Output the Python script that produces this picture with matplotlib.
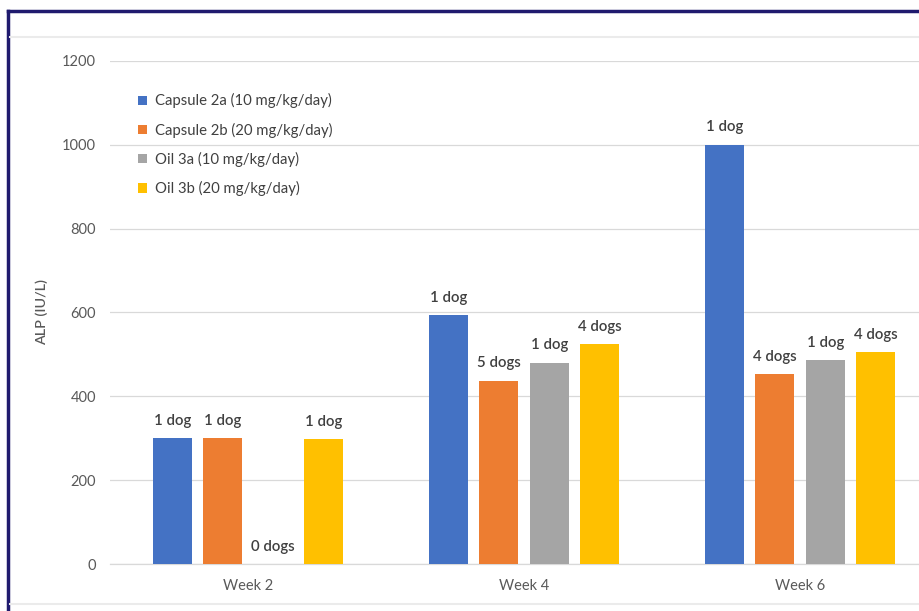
import matplotlib.pyplot as plt
import numpy as np
from matplotlib.lines import Line2D

# ALP values per week for each formulation
weeks = ["Week 2", "Week 4", "Week 6"]
series = [
    "Capsule 2a (10 mg/kg/day)",
    "Capsule 2b (20 mg/kg/day)",
    "Oil 3a (10 mg/kg/day)",
    "Oil 3b (20 mg/kg/day)",
]
capsule_2a = [300, 594, 1000]
capsule_2b = [300, 437, 453]
oil_3a = [0, 480, 487]
oil_3b = [298, 525, 506]

capsule_2a_n = ["1 dog", "1 dog", "1 dog"]
capsule_2b_n = ["1 dog", "5 dogs", "4 dogs"]
oil_3a_n = ["0 dogs", "1 dog", "1 dog"]
oil_3b_n = ["1 dog", "4 dogs", "4 dogs"]

colors = ["#4472C4", "#ED7D31", "#A5A5A5", "#FFC000"]
values = [capsule_2a, capsule_2b, oil_3a, oil_3b]
counts = [capsule_2a_n, capsule_2b_n, oil_3a_n, oil_3b_n]

plt.rcParams["font.family"] = ["Lato", "DejaVu Sans"]
text_col = "#595959"

fig = plt.figure(figsize=(9.19, 6.11), dpi=100)
ax = fig.add_axes([0.1197, 0.0769, 0.9010, 0.8233])

x = np.arange(len(weeks))
pitch = 0.182
width = 0.141
for i, (vals, col, lab, cnt) in enumerate(zip(values, colors, series, counts)):
    pos = x + (i - 1.5) * pitch
    ax.bar(pos, vals, width=width, color=col, label=lab, zorder=3)
    for p, v, c in zip(pos, vals, cnt):
        ax.annotate(c, (p, v), xytext=(0, 12.5), textcoords="offset points",
                    ha="center", va="center", fontsize=10.8,
                    color="#404040", fontweight="semibold")

ax.set_xlim(-0.5, 2.5)
ax.set_ylim(0, 1200)
ax.set_yticks(range(0, 1201, 200))
ax.set_xticks(x)
ax.set_xticklabels(weeks)
ax.grid(axis="y", color="#D9D9D9", linewidth=0.9, zorder=0)
for s in ["top", "right", "left"]:
    ax.spines[s].set_visible(False)
ax.spines["bottom"].set_color("#D9D9D9")
ax.spines["bottom"].set_linewidth(0.9)
ax.tick_params(axis="both", length=0, labelsize=10.5, labelcolor=text_col)
ax.tick_params(axis="y", pad=10)
ax.tick_params(axis="x", pad=11)
ax.set_ylabel("ALP (IU/L)", fontsize=10.3, color=text_col, labelpad=10,
              fontweight="semibold")

leg = ax.legend(loc="upper left", bbox_to_anchor=(0.136, 0.869),
                bbox_transform=fig.transFigure, frameon=False, fontsize=10.7,
                handlelength=0.6, handleheight=0.6, handletextpad=0.5,
                labelspacing=0.95)
for t in leg.get_texts():
    t.set_color("#404040")

# frame pieces around the chart
fig.add_artist(Line2D([0.009, 1.0], [0.982, 0.982], color="#1F1A6E", lw=2.5))
fig.add_artist(Line2D([0.009, 0.009], [0.0, 0.982], color="#1F1A6E", lw=2.5))
fig.add_artist(Line2D([0.011, 1.0], [0.939, 0.939], color="#EBEBEB", lw=1.5))
fig.add_artist(Line2D([0.011, 1.0], [0.012, 0.012], color="#EBEBEB", lw=1.5))

plt.savefig("out.png", dpi=100)
